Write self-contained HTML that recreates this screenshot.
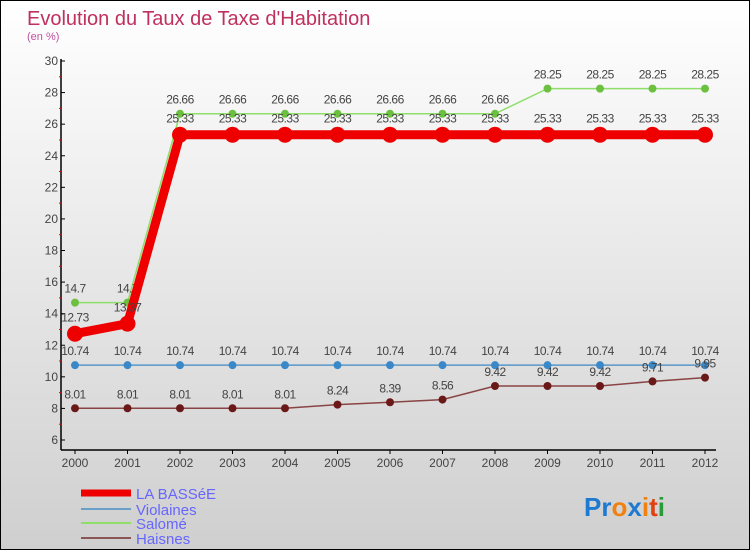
<!DOCTYPE html>
<html><head><meta charset="utf-8"><style>
html,body{margin:0;padding:0}
body{width:750px;height:550px;overflow:hidden;font-family:"Liberation Sans",sans-serif}
#wrap{position:relative;width:748px;height:548px;border:1px solid #000;background:linear-gradient(#ffffff,#cfcfcf)}
</style></head><body>
<div id="wrap">
<svg id="chart" width="748" height="548" style="position:absolute;left:0;top:0">
<text x="26" y="24" font-size="20" fill="#c0305e">Evolution du Taux de Taxe d'Habitation</text>
<text x="26" y="39" font-size="11" fill="#c0509e">(en %)</text>
<g id="axes"></g><g id="series"></g>
<g>
<line x1="80" y1="492" x2="130" y2="492" stroke="#e00" stroke-width="7"/>
<text x="135" y="498" font-size="15" fill="#6666ff">LA BASSéE</text>
<line x1="80" y1="508" x2="130" y2="508" stroke="#6aa0c8" stroke-width="2"/>
<text x="135" y="514" font-size="15" fill="#6666ff">Violaines</text>
<line x1="80" y1="522" x2="130" y2="522" stroke="#8ede6a" stroke-width="2"/>
<text x="135" y="528" font-size="15" fill="#6666ff">Salomé</text>
<line x1="80" y1="537" x2="130" y2="537" stroke="#8a5555" stroke-width="2"/>
<text x="135" y="543" font-size="15" fill="#6666ff">Haisnes</text>
</g>
<text x="583" y="515" font-size="26" font-weight="bold"><tspan fill="#1e7ad0">Pr</tspan><tspan fill="#f08010">o</tspan><tspan fill="#1e7ad0">x</tspan><tspan fill="#f08010">i</tspan><tspan fill="#e04010">t</tspan><tspan fill="#2a9a3a">i</tspan></text>
</svg></div>
<script>
const years=[2000,2001,2002,2003,2004,2005,2006,2007,2008,2009,2010,2011,2012];
const laBassee=[12.73,13.37,25.33,25.33,25.33,25.33,25.33,25.33,25.33,25.33,25.33,25.33,25.33];
const violaines=[10.74,10.74,10.74,10.74,10.74,10.74,10.74,10.74,10.74,10.74,10.74,10.74,10.74];
const salome=[14.7,14.7,26.66,26.66,26.66,26.66,26.66,26.66,26.66,28.25,28.25,28.25,28.25];
const haisnes=[8.01,8.01,8.01,8.01,8.01,8.24,8.39,8.56,9.42,9.42,9.42,9.71,9.95];
const yTicks=[6,8,10,12,14,16,18,20,22,24,26,28,30];
const NS="http://www.w3.org/2000/svg";
const xS=i=>74+i*52.5, yS=v=>439-(v-6)*(379/24);
function mk(tag,attrs,parent){const e=document.createElementNS(NS,tag);for(const k in attrs)e.setAttribute(k,attrs[k]);parent.appendChild(e);return e;}
const axes=document.getElementById('axes'), ser=document.getElementById('series');
let a=mk('line',{x1:60,y1:58,x2:60,y2:449,stroke:'#000','stroke-width':1.5},axes);


a=mk('line',{x1:60,y1:449,x2:715,y2:449,stroke:'#000','stroke-width':1.5},axes);


yTicks.forEach(t=>{
 mk('line',{x1:60,y1:yS(t),x2:64,y2:yS(t),stroke:'#000'},axes);
 if(t<30) mk('line',{x1:58,y1:yS(t+1),x2:61,y2:yS(t+1),stroke:'#e00'},axes);
 const tx=mk('text',{x:57,y:yS(t)+4,'font-size':12,fill:'#444','text-anchor':'end'},axes);
 tx.textContent=t;
 
 
});
years.forEach((y,i)=>{
 mk('line',{x1:xS(i),y1:449,x2:xS(i),y2:453,stroke:'#000'},axes);
 const tx=mk('text',{x:xS(i),y:466,'font-size':12,fill:'#444','text-anchor':'middle'},axes);
 tx.textContent=y;
 
 
});
function draw(vals,name,color,lw,r,dot){
 const g=mk('g',{},ser);
 
 
 const pl=mk('polyline',{points:vals.map((v,i)=>xS(i)+','+yS(v)).join(' '),fill:'none',stroke:color,'stroke-width':lw},g);
 
 
 vals.forEach((v,i)=>{
  const c=mk('circle',{cx:xS(i),cy:yS(v),r:r,fill:dot},g);
  
  
  const t=mk('text',{x:xS(i),y:yS(v)-8-r/2,'font-size':12,fill:'#444','text-anchor':'middle','letter-spacing':'-0.5'},g);
  t.textContent=v;
  
  
 });
}
draw(salome,'salome','#8ede6a',1.5,4,'#6cc040');
draw(violaines,'violaines','#5a96c8',1.5,4,'#3a88c8');
draw(haisnes,'haisnes','#8a4444',1.5,4,'#6a1818');
draw(laBassee,'la-bassee','#ee0000',9,8,'#ee0000');
</script>
</body></html>
